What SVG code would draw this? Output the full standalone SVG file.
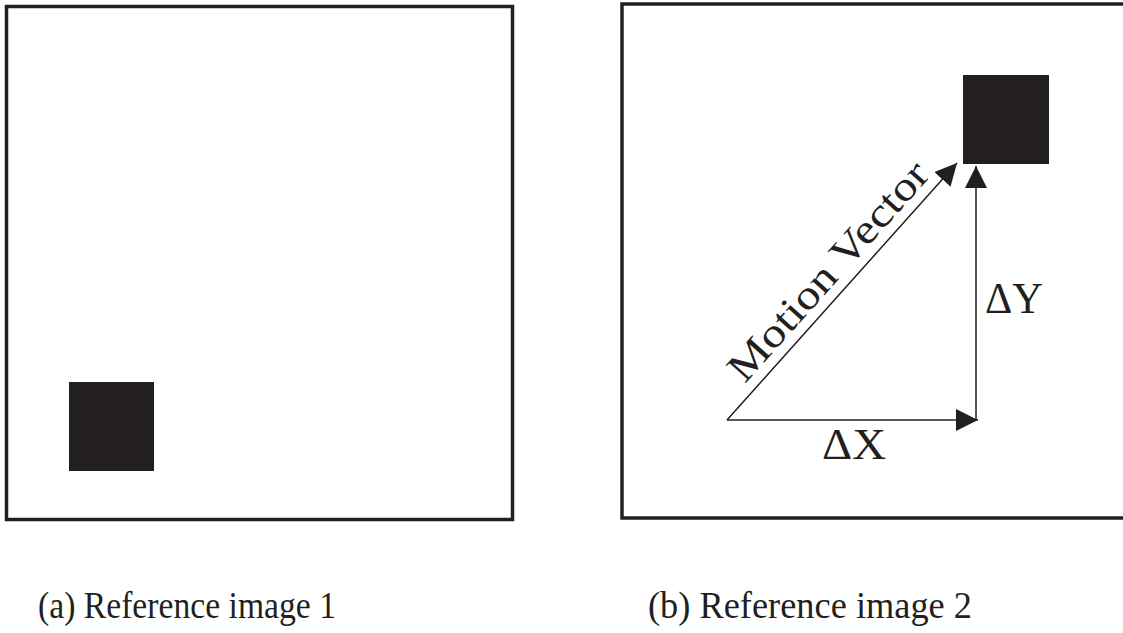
<svg xmlns="http://www.w3.org/2000/svg" width="1123" height="633" viewBox="0 0 1123 633">
  <style>
    .frame { fill: none; stroke: #231f20; stroke-width: 3.5; }
    .block { fill: #231f20; }
    .conn { stroke: #231f20; stroke-width: 1.5; fill: none; }
    .lbl { font-family: "Liberation Serif", "Times New Roman", serif; fill: #231f20; }
  </style>
  <defs>
    <marker id="ah" markerUnits="userSpaceOnUse" markerWidth="24" markerHeight="24" refX="22" refY="11" orient="auto">
      <path d="M0,0 L22,11 L0,22 z" fill="#231f20"/>
    </marker>
  </defs>
  <rect width="1123" height="633" fill="#ffffff"/>

  <g id="panel-a">
    <rect class="frame" x="6.5" y="6.5" width="506" height="513"/>
    <rect id="block-a" class="block" x="69" y="382" width="85" height="89"/>
    <text class="lbl" x="38" y="618" font-size="37" textLength="298" lengthAdjust="spacingAndGlyphs">(a) Reference image 1</text>
  </g>

  <g id="panel-b">
    <rect class="frame" x="622" y="4" width="520" height="514"/>
    <rect id="block-b" class="block" x="963" y="75" width="86" height="89"/>
    <text class="lbl" x="648" y="618" font-size="37" textLength="324" lengthAdjust="spacingAndGlyphs">(b) Reference image 2</text>
  </g>

  <g id="connectors">
    <line class="conn" x1="727" y1="420" x2="978" y2="420" marker-end="url(#ah)"/>
    <line class="conn" x1="976" y1="420" x2="976" y2="166" marker-end="url(#ah)"/>
    <line class="conn" x1="727" y1="420" x2="957" y2="163" marker-end="url(#ah)"/>
  </g>

  <g id="labels">
    <text class="lbl" font-size="41" text-anchor="middle" textLength="280" lengthAdjust="spacingAndGlyphs" transform="translate(838,280) rotate(-48.2)">Motion Vector</text>
    <text class="lbl" x="822" y="459" font-size="44" textLength="64" lengthAdjust="spacingAndGlyphs">ΔX</text>
    <text class="lbl" x="985" y="313" font-size="44" textLength="58" lengthAdjust="spacingAndGlyphs">ΔY</text>
  </g>
</svg>
